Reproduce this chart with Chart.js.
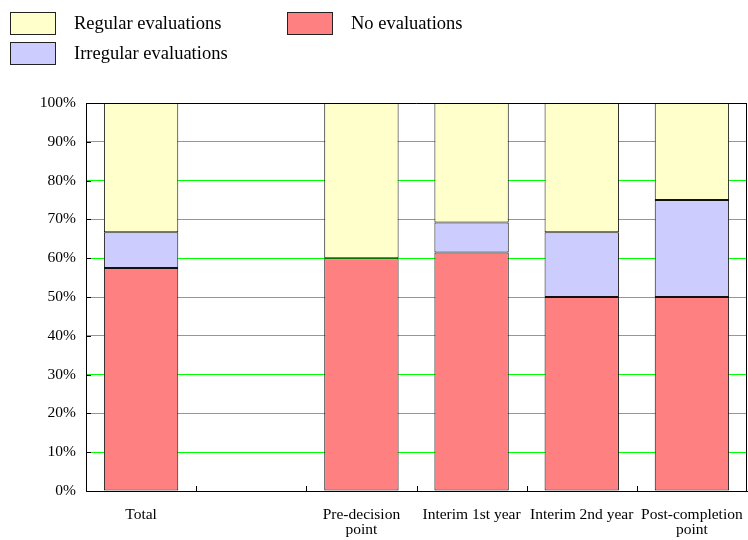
<!DOCTYPE html>
<html>
<head>
<meta charset="utf-8">
<script src="https://cdn.jsdelivr.net/npm/chart.js@4/dist/chart.umd.min.js"></script>
<style>
  html, body { margin: 0; padding: 0; background: #fff; }
  #wrap { width: 748px; height: 540px; position: relative; }
</style>
</head>
<body>
<div id="wrap"><canvas id="c" width="748" height="540"></canvas></div>
<script>
// Evaluation practice by project stage (share of projects, %)
const categories = ['Total', '', ['Pre-decision', 'point'], 'Interim 1st year', 'Interim 2nd year', ['Post-completion', 'point']];
const noEvaluations        = [57.5, null, 60.0, 61.5, 50.0, 50.0];
const irregularEvaluations = [9.2,  null, 0.0,  7.7,  16.7, 25.0];
const regularEvaluations   = [33.3, null, 40.0, 30.8, 33.3, 25.0];
const yTicks = [0, 10, 20, 30, 40, 50, 60, 70, 80, 90, 100];

const SERIF = '"Liberation Serif", "Times New Roman", serif';

// Legend laid out in two columns above the plot
const legendLayout = [
  { ds: 2, x: 10,  y: 12 },
  { ds: 0, x: 287, y: 12 },
  { ds: 1, x: 10,  y: 42 }
];

const framePlugin = {
  id: 'frame',
  afterDraw(chart) {
    const ctx = chart.ctx;
    const a = chart.chartArea;
    const x = chart.scales.x;
    const y = chart.scales.y;
    ctx.save();
    ctx.strokeStyle = '#000';
    ctx.lineWidth = 1;
    // top and right edges of the plot
    ctx.beginPath();
    ctx.moveTo(a.left, Math.round(a.top) + 0.5);
    ctx.lineTo(a.right, Math.round(a.top) + 0.5);
    ctx.moveTo(Math.round(a.right) - 0.5, a.top);
    ctx.lineTo(Math.round(a.right) - 0.5, a.bottom);
    ctx.stroke();
    // category separators: short ticks rising from the base line
    ctx.beginPath();
    for (let i = 1; i < categories.length; i++) {
      const px = Math.round((x.getPixelForTick(i - 1) + x.getPixelForTick(i)) / 2) + 0.5;
      ctx.moveTo(px, a.bottom);
      ctx.lineTo(px, a.bottom - 5);
    }
    // value ticks pointing into the plot
    yTicks.forEach(v => {
      const py = Math.round(y.getPixelForValue(v)) + 0.5;
      ctx.moveTo(a.left, py);
      ctx.lineTo(a.left + 5, py);
    });
    ctx.stroke();

    // legend
    ctx.font = '18.5px ' + SERIF;
    ctx.textBaseline = 'middle';
    ctx.textAlign = 'left';
    legendLayout.forEach(item => {
      const ds = chart.data.datasets[item.ds];
      ctx.fillStyle = ds.backgroundColor;
      ctx.fillRect(item.x, item.y, 46, 23);
      ctx.strokeStyle = '#222';
      ctx.strokeRect(item.x + 0.5, item.y + 0.5, 45, 22);
      ctx.fillStyle = '#000';
      ctx.fillText(ds.label, item.x + 64, item.y + 12);
    });
    ctx.restore();
  }
};

new Chart(document.getElementById('c'), {
  type: 'bar',
  data: {
    labels: categories,
    datasets: [
      { label: 'No evaluations', data: noEvaluations, backgroundColor: '#FF8080' },
      { label: 'Irregular evaluations', data: irregularEvaluations, backgroundColor: '#CCCCFF' },
      { label: 'Regular evaluations', data: regularEvaluations, backgroundColor: '#FFFFCC' }
    ].map(d => Object.assign(d, {
      borderColor: '#111',
      borderWidth: 1,
      borderSkipped: false,
      categoryPercentage: 1,
      barPercentage: 0.675,
      stack: 's'
    }))
  },
  options: {
    responsive: false,
    animation: false,
    events: [],
    layout: { padding: { top: 103, right: 1, left: 0, bottom: 0 } },
    plugins: { legend: { display: false }, tooltip: { enabled: false } },
    scales: {
      x: {
        stacked: true,
        grid: { display: false, drawTicks: false },
        border: { display: true, color: '#000', width: 1 },
        ticks: {
          color: '#000',
          font: { family: SERIF, size: 15.5, lineHeight: 1.0 },
          autoSkip: false,
          maxRotation: 0,
          minRotation: 0,
          padding: 16
        },
        afterFit(s) {
          s.height = 49;
          // let the outer labels overhang instead of shrinking the plot
          s.paddingLeft = 0;
          s.paddingRight = 0;
        }
      },
      y: {
        stacked: true,
        min: 0,
        max: 100,
        afterBuildTicks(s) { s.ticks = yTicks.map(v => ({ value: v })); },
        grid: { color: '#00FF00', lineWidth: 1, drawTicks: false },
        border: { display: true, color: '#000', width: 1 },
        ticks: {
          color: '#000',
          font: { family: SERIF, size: 15.5 },
          padding: 10,
          callback: v => v + '%'
        },
        afterFit(s) {
          s.width = 86;
          s.paddingTop = 0;
          s.paddingBottom = 0;
        }
      }
    }
  },
  plugins: [framePlugin]
});
</script>
</body>
</html>
